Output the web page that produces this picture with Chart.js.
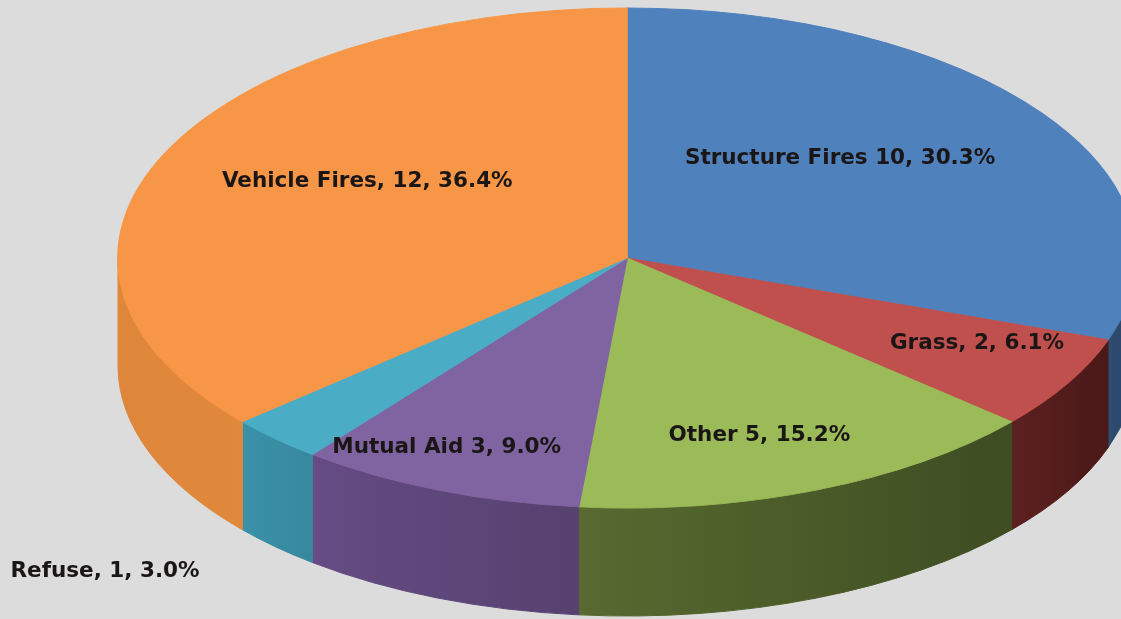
<!DOCTYPE html>
<html>
<head>
<meta charset="utf-8">
<script src="https://cdn.jsdelivr.net/npm/chart.js@4.4.1/dist/chart.umd.min.js"></script>
<style>
  html, body { margin: 0; padding: 0; background: #dcdcdc; overflow: hidden; }
  canvas { display: block; }
</style>
</head>
<body>
<canvas id="fireChart" width="1121" height="619"></canvas>
<script>
// data
const categories = ['Structure Fires', 'Grass', 'Other', 'Mutual Aid', 'Refuse', 'Vehicle Fires'];
const counts = [10, 2, 5, 3, 1, 12];
const percents = ['30.3%', '6.1%', '15.2%', '9.0%', '3.0%', '36.4%'];
const nameSeparators = [' ', ', ', ' ', ' ', ', ', ', '];

// colours
const topColors = ['#4f81bd', '#c0504d', '#9bbb59', '#8064a2', '#4bacc6', '#f79646'];
// side shading, [left, right]
const sideColors = [
    ['#2f4d72', '#27405f'],
    ['#5c201f', '#4a1918'],
    ['#586a30', '#3e4d22'],
    ['#654c84', '#56416f'],
    ['#3a91a8', '#37889e'],
    ['#de863a', '#e0883c']
];

// ── 3D pie plugin: squashes the library's arcs into an ellipse and adds the rim ──
const pie3d = {
    id: 'pie3d',
    beforeDatasetsDraw(chart, args, opts) {
        const ctx = chart.ctx;
        const arcs = chart.getDatasetMeta(0).data;
        const { cx, cy, rx, ry, depth } = opts;

        // front rim (only the part facing the viewer, angle 0..PI)
        arcs.forEach((arc, i) => {
            const { startAngle, endAngle } = arc.getProps(['startAngle', 'endAngle'], true);
            const a0 = Math.max(startAngle, 0);
            const a1 = Math.min(endAngle, Math.PI);
            if (a1 <= a0) return;
            const xa = cx + rx * Math.cos(a0);
            const xb = cx + rx * Math.cos(a1);
            const g = ctx.createLinearGradient(Math.min(xa, xb), 0, Math.max(xa, xb), 0);
            g.addColorStop(0, sideColors[i][0]);
            g.addColorStop(1, sideColors[i][1]);
            ctx.beginPath();
            ctx.ellipse(cx, cy, rx, ry, 0, a0, a1);
            ctx.ellipse(cx, cy + depth, rx, ry, 0, a1, a0, true);
            ctx.closePath();
            ctx.fillStyle = g;
            ctx.strokeStyle = g;
            ctx.lineWidth = 1;
            ctx.fill();
            ctx.stroke();
        });

        // top face: map the circular pie onto the ellipse
        const a = arcs[0];
        ctx.save();
        ctx.translate(cx, cy);
        ctx.scale(rx / a.outerRadius, ry / a.outerRadius);
        ctx.translate(-a.x, -a.y);
    },
    afterDatasetsDraw(chart, args, opts) {
        const ctx = chart.ctx;
        ctx.restore();
        const arcs = chart.getDatasetMeta(0).data;
        const { cx, cy, rx, ry, labelPlace } = opts;
        ctx.save();
        ctx.font = 'bold 21.5px "DejaVu Sans", sans-serif';
        ctx.fillStyle = '#1b1616';
        ctx.textAlign = 'center';
        ctx.textBaseline = 'middle';
        arcs.forEach((arc, i) => {
            const { startAngle, endAngle } = arc.getProps(['startAngle', 'endAngle'], true);
            const mid = (startAngle + endAngle) / 2;
            const [fx, fy] = labelPlace[i];
            const x = cx + rx * fx * Math.cos(mid);
            const y = cy + ry * fy * Math.sin(mid);
            const text = categories[i] + nameSeparators[i] + counts[i] + ', ' + percents[i];
            ctx.fillText(text, x, y);
        });
        ctx.restore();
    }
};

new Chart(document.getElementById('fireChart'), {
    type: 'pie',
    data: {
        labels: categories,
        datasets: [{
            data: counts,
            backgroundColor: topColors,
            borderColor: topColors,
            borderWidth: 1,
            hoverOffset: 0,
            clip: false
        }]
    },
    options: {
        responsive: false,
        animation: false,
        devicePixelRatio: 1,
        events: [],
        layout: { padding: 0 },
        plugins: {
            legend: { display: false },
            tooltip: { enabled: false },
            pie3d: {
                cx: 627, cy: 258, rx: 509, ry: 250, depth: 108,
                labelPlace: [[0.514, 0.69], [0.794, 0.68], [0.70, 0.763], [0.953, 0.815], [1.486, 1.73], [0.561, 0.733]]
            }
        }
    },
    plugins: [pie3d]
});
</script>
</body>
</html>
